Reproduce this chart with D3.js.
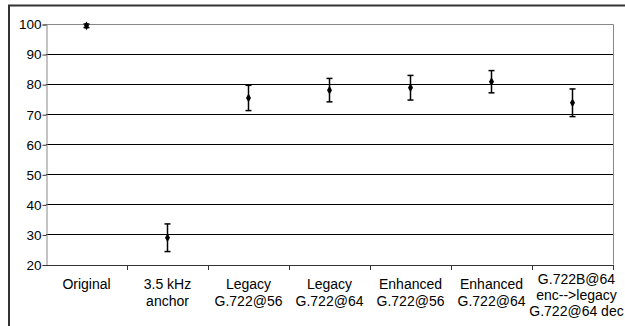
<!DOCTYPE html>
<html>
<head>
<meta charset="utf-8">
<script src="https://cdn.jsdelivr.net/npm/d3@7"></script>
<style>
  body { margin: 0; background: #fff; }
  svg { display: block; font-family: "Liberation Sans", Arial, sans-serif; }
</style>
</head>
<body>
<svg class="chart"></svg>
<script>
// category labels (lines split)
var categories = [
  ["Original"],
  ["3.5 kHz", "anchor"],
  ["Legacy", "G.722@56"],
  ["Legacy", "G.722@64"],
  ["Enhanced", "G.722@56"],
  ["Enhanced", "G.722@64"],
  ["G.722B@64", "enc-->legacy", "G.722@64 dec"]
];
var means = [99.4, 28.9, 75.4, 78.0, 78.8, 80.8, 73.8];
var ci95 = [0.6, 4.6, 4.2, 3.9, 4.1, 3.7, 4.6];
var yTicks = [20, 30, 40, 50, 60, 70, 80, 90, 100];

var width = 625, height = 326;
var mLeft = 46, mRight = 613, mTop = 24, mBottom = 264.5;

var svg = d3.select(".chart").attr("width", width).attr("height", height);

// outer frame
svg.append("path")
    .attr("d", "M9," + height + "V5.5H" + width)
    .attr("fill", "none")
    .attr("stroke", "#333")
    .attr("stroke-width", 2);

var x = d3.scaleBand()
    .domain(d3.range(categories.length))
    .range([mLeft, mRight]);
var y = d3.scaleLinear().domain([20, 100]).range([mBottom, mTop]);

// gridlines
svg.append("g").selectAll("line")
  .data(yTicks.filter(function(d) { return d > 20 && d < 100; }))
  .enter().append("line")
    .attr("x1", mLeft).attr("x2", mRight)
    .attr("y1", function(d) { return Math.round(y(d)) + 0.5; })
    .attr("y2", function(d) { return Math.round(y(d)) + 0.5; })
    .attr("stroke", "#000");

// plot border
svg.append("path")
    .attr("d", "M" + mLeft + "," + (mTop + 0.5) + "H" + (mRight + 0.5) + "V" + mBottom)
    .attr("fill", "none")
    .attr("stroke", "#888");

// y axis
var yAxis = svg.append("g")
    .attr("transform", "translate(" + (mLeft + 0.5) + ",0.5)")
    .call(d3.axisLeft(y).tickValues(yTicks).tickSize(4).tickPadding(1));
yAxis.select(".domain").attr("stroke", "#888");
yAxis.selectAll(".tick line").attr("stroke", "#333");
yAxis.selectAll("text").attr("font-size", 13.5).attr("fill", "#000").attr("font-family", null);

// x axis line + ticks at band boundaries
svg.append("line")
    .attr("x1", mLeft).attr("x2", mRight + 0.5)
    .attr("y1", Math.round(mBottom) + 0.5).attr("y2", Math.round(mBottom) + 0.5)
    .attr("stroke", "#333");
var bounds = d3.range(categories.length + 1).map(function(i) {
  return i < categories.length ? x(i) : x(i - 1) + x.bandwidth();
});
svg.append("g").selectAll("line")
  .data(bounds.slice(1))
  .enter().append("line")
    .attr("x1", function(d) { return Math.round(d) + 0.5; })
    .attr("x2", function(d) { return Math.round(d) + 0.5; })
    .attr("y1", Math.round(mBottom)).attr("y2", Math.round(mBottom) + 5)
    .attr("stroke", "#333");

// category labels
var lab = svg.append("g").selectAll("text")
  .data(categories)
  .enter().append("text")
    .attr("text-anchor", "middle")
    .attr("font-size", 14)
    .attr("fill", "#000");
lab.each(function(lines, i) {
  var three = lines.length === 3;
  var y0 = three ? 283.5 : 289;
  d3.select(this).selectAll("tspan")
    .data(lines)
    .enter().append("tspan")
      .attr("x", x(i) + x.bandwidth() / 2 + (three ? 4 : 0))
      .attr("y", function(d, j) { return y0 + j * (three ? 16 : 17); })
      .text(function(d) { return d; });
});

// error bars
var g = svg.append("g");
means.forEach(function(m, i) {
  var cx = x(i) + x.bandwidth() / 2;
  var y1 = y(m + ci95[i]), y2 = y(m - ci95[i]);
  g.append("line").attr("x1", cx).attr("x2", cx).attr("y1", y1).attr("y2", y2)
    .attr("stroke", "#000").attr("stroke-width", 1.5);
  [y1, y2].forEach(function(yy) {
    g.append("line").attr("x1", cx - 3).attr("x2", cx + 3).attr("y1", yy).attr("y2", yy)
      .attr("stroke", "#000").attr("stroke-width", 1.5);
  });
  g.append("path")
    .attr("d", d3.symbol().type(d3.symbolDiamond).size(22)())
    .attr("transform", "translate(" + cx + "," + y(m) + ")")
    .attr("fill", "#000");
});
</script>
</body>
</html>
